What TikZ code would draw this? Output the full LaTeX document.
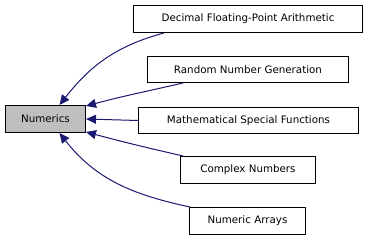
\documentclass[tikz,border=0pt]{standalone}
\usepackage{fontspec}
\setmainfont{DejaVu Sans}
\usetikzlibrary{arrows.meta}
\definecolor{edgeblue}{HTML}{191970}
\definecolor{numgray}{HTML}{BFBFBF}
\tikzset{
  box/.style={draw=black, line width=1pt, inner sep=0pt, anchor=north west, font=\fontsize{10.3}{12}\selectfont, text=black},
  edge/.style={draw=edgeblue, line width=1pt, -{Triangle[length=10pt,width=9pt]}}
}
\begin{document}
\begin{tikzpicture}[x=1pt,y=-1pt]
\useasboundingbox (0,0) rectangle (368,240);
\node[box, fill=numgray, minimum width=80pt, minimum height=27pt] (num) at (5,105) {Numerics};
\node[box, minimum width=229pt, minimum height=27pt] (dec) at (133,5) {Decimal Floating-Point Arithmetic};
\node[box, minimum width=201pt, minimum height=26pt] (rng) at (147,56) {Random Number Generation};
\node[box, minimum width=220pt, minimum height=26pt] (math) at (138,107) {Mathematical Special Functions};
\node[box, minimum width=135pt, minimum height=27pt] (cplx) at (180,156) {Complex Numbers};
\node[box, minimum width=116pt, minimum height=27pt] (arr) at (189,207) {Numeric Arrays};
\draw[edge] ([xshift=31pt]dec.south west) to[out=195,in=52] ([xshift=14pt]num.north);
\draw[edge] ([xshift=36pt]rng.south west) to[out=193,in=15] ([yshift=-1pt]num.north east);
\draw[edge] (math.west) -- (num.east);
\draw[edge] ([xshift=3pt]cplx.north west) to[out=167,in=-15] ([yshift=1pt]num.south east);
\draw[edge] ([xshift=1pt]arr.north west) to[out=168,in=-52] ([xshift=14pt]num.south);
\end{tikzpicture}
\end{document}
